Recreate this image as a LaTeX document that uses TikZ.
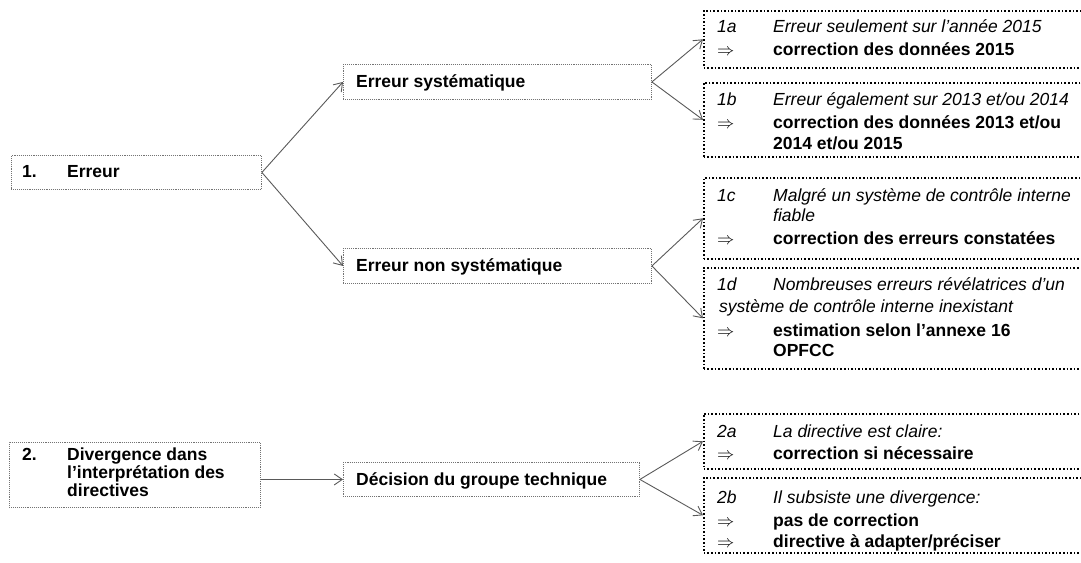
\documentclass[tikz,border=0pt]{standalone}
\usepackage{fontspec}
\setmainfont{Liberation Sans}
\usetikzlibrary{arrows.meta}
\begin{document}
\begin{tikzpicture}[x=1bp,y=-1bp,
 lbox/.style={draw=black!55, densely dotted, line width=0.9bp, anchor=north west, inner sep=0, fill=white},
 rbox/.style={draw=black, dotted, line width=1.6bp, anchor=north west, inner sep=0, minimum width=392bp},
 txt/.style={anchor=base west, inner sep=0, font=\fontsize{17.5bp}{21bp}\selectfont},
 btxt/.style={txt, font=\fontsize{17.5bp}{21bp}\selectfont\bfseries},
 itxt/.style={txt, font=\fontsize{17.5bp}{21bp}\selectfont\itshape},
 conn/.style={draw=black!65, line width=0.9bp, -{Straight Barb[length=8bp,width=11bp]}},
]
\useasboundingbox (0,0) rectangle (1081,563);

% left boxes
\node[lbox, minimum width=250bp, minimum height=34bp] (n1) at (11,155) {};
\node[lbox, minimum width=308bp, minimum height=35bp] (ns) at (343,64) {};
\node[lbox, minimum width=308bp, minimum height=35bp] (nn) at (343,248) {};
\node[lbox, minimum width=251bp, minimum height=65bp] (n2) at (9,442) {};
\node[lbox, minimum width=296bp, minimum height=34bp] (nd) at (343,462) {};

\node[btxt] (t1a) at (22,178) {1.};
\node[btxt] (t1b) at (67,178) {Erreur};
\node[btxt] (ts) at (356,88) {Erreur systématique};
\node[btxt] (tn) at (356,272) {Erreur non systématique};
\node[btxt] (t2a) at (22,460) {2.};
\node[btxt] (t2b) at (67,460) {Divergence dans};
\node[btxt] (t2c) at (67,478) {l’interprétation des};
\node[btxt] (t2d) at (67,496) {directives};
\node[btxt] (td) at (356,485) {Décision du groupe technique};

% right boxes
\node[rbox, minimum height=57bp] (b1a) at (703,10) {};
\node[rbox, minimum height=74bp] (b1b) at (703,82) {};
\node[rbox, minimum height=81bp] (b1c) at (703,177) {};
\node[rbox, minimum height=101bp] (b1d) at (703,267) {};
\node[rbox, minimum height=55bp] (b2a) at (703,413) {};
\node[rbox, minimum height=75bp] (b2b) at (703,477) {};

% 1a
\node[itxt] (l1a) at (717,33) {1a};
\node[itxt] (x1a) at (773,33) {Erreur seulement sur l’année 2015};
\node[txt] (r1a) at (717,56) {$\Rightarrow$};
\node[btxt] (y1a) at (773,56) {correction des données 2015};
% 1b
\node[itxt] (l1b) at (717,106) {1b};
\node[itxt] (x1b) at (773,106) {Erreur également sur 2013 et/ou 2014};
\node[txt] (r1b) at (717,129) {$\Rightarrow$};
\node[btxt] (y1b) at (773,129) {correction des données 2013 et/ou};
\node[btxt] (z1b) at (773,150) {2014 et/ou 2015};
% 1c
\node[itxt] (l1c) at (717,202) {1c};
\node[itxt] (x1c) at (773,202) {Malgré un système de contrôle interne};
\node[itxt] (w1c) at (773,222) {fiable};
\node[txt] (r1c) at (717,245) {$\Rightarrow$};
\node[btxt] (y1c) at (773,245) {correction des erreurs constatées};
% 1d
\node[itxt] (l1d) at (717,291) {1d};
\node[itxt] (x1d) at (773,291) {Nombreuses erreurs révélatrices d’un};
\node[itxt] (w1d) at (719,313) {système de contrôle interne inexistant};
\node[txt] (r1d) at (717,336) {$\Rightarrow$};
\node[btxt] (y1d) at (773,336) {estimation selon l’annexe 16};
\node[btxt] (z1d) at (773,356) {OPFCC};
% 2a
\node[itxt] (l2a) at (717,437) {2a};
\node[itxt] (x2a) at (773,437) {La directive est claire:};
\node[txt] (r2a) at (717,459) {$\Rightarrow$};
\node[btxt] (y2a) at (773,459) {correction si nécessaire};
% 2b
\node[itxt] (l2b) at (717,503) {2b};
\node[itxt] (x2b) at (773,503) {Il subsiste une divergence:};
\node[txt] (r2b) at (717,526) {$\Rightarrow$};
\node[btxt] (y2b) at (773,526) {pas de correction};
\node[txt] (s2b) at (717,547) {$\Rightarrow$};
\node[btxt] (z2b) at (773,547) {directive à adapter/préciser};

% connectors
\draw[conn] (n1.east) -- (ns.west);
\draw[conn] (n1.east) -- (nn.west);
\draw[conn] (ns.east) -- (b1a.west);
\draw[conn] (ns.east) -- (b1b.west);
\draw[conn] (nn.east) -- (b1c.west);
\draw[conn] (nn.east) -- (b1d.west);
\draw[conn] (n2.east |- nd.west) -- (nd.west);
\draw[conn] (nd.east) -- (b2a.west);
\draw[conn] (nd.east) -- (b2b.west);
\end{tikzpicture}
\end{document}
